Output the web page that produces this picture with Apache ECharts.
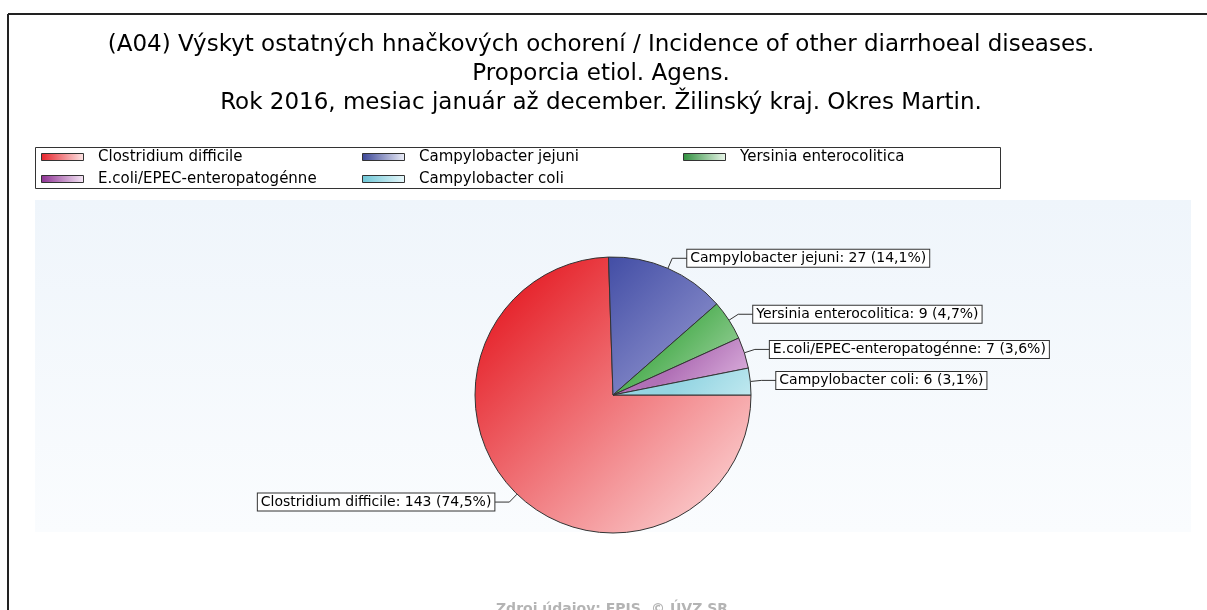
<!DOCTYPE html>
<html>
<head>
<meta charset="utf-8">
<script src="https://cdn.jsdelivr.net/npm/echarts@6/dist/echarts.min.js"></script>
<style>
  html, body { margin: 0; padding: 0; background: #fff; }
  #chart { width: 1207px; height: 610px; }
</style>
</head>
<body>
<div id="chart"></div>
<script>
// data
const agens = ['Clostridium difficile', 'Campylobacter jejuni', 'Yersinia enterocolitica', 'E.coli/EPEC-enteropatogénne', 'Campylobacter coli'];
const pocty = [143, 27, 9, 7, 6];
const titleLines = [
    '(A04) Výskyt ostatných hnačkových ochorení / Incidence of other diarrhoeal diseases.',
    'Proporcia etiol. Agens.',
    'Rok 2016, mesiac január až december. Žilinský kraj. Okres Martin.'
];
const zdroj = 'Zdroj údajov: EPIS, © ÚVZ SR';

// farby: prechody pre kolac a legendu
const pieStops = [
    [[0.1, '#e51d25'], [1, '#fde0e0']],
    [[0.25, '#444fa6'], [0.6, '#8a8ecb']],
    [[0.5, '#52b056'], [0.72, '#aad8aa']],
    [[0.56, '#b070b6'], [0.76, '#e6c0e6']],
    [[0.6, '#94d5e2'], [0.82, '#d4f1f6']]
];
const legendColors = [
    ['#e6222a', '#fde6e6'],
    ['#3a4596', '#eceef8'],
    ['#2f8f3e', '#eaf6ea'],
    ['#8c2f92', '#f6e8f6'],
    ['#6cc6d6', '#e8f8fb']
];

// kolac: stred a polomer
const cx = 613, cy = 395, r = 138;

const chart = echarts.init(document.getElementById('chart'));

function pieGrad(stops) {
    return {
        type: 'linear', global: true,
        x: cx - r, y: cy - r, x2: cx + r, y2: cy + r,
        colorStops: stops.map(s => ({ offset: s[0], color: s[1] }))
    };
}
function legGrad(c) {
    return {
        type: 'linear', x: 0, y: 0, x2: 1, y2: 0,
        colorStops: [{ offset: 0, color: c[0] }, { offset: 1, color: c[1] }]
    };
}

const pieData = agens.map((n, i) => ({
    name: n,
    value: pocty[i],
    itemStyle: { color: pieGrad(pieStops[i]) }
}));

function legendCol(idxs, left) {
    return {
        orient: 'vertical',
        left: left,
        top: 149,
        itemWidth: 42,
        itemHeight: 7,
        itemGap: 6,
        padding: 0,
        icon: 'rect',
        itemStyle: { borderColor: '#333', borderWidth: 1 },
        textStyle: { fontFamily: 'DejaVu Sans', fontSize: 15, color: '#000', lineHeight: 16 },
        formatter: n => '  ' + n,
        selectedMode: false,
        data: idxs.map(i => ({ name: agens[i], itemStyle: { color: legGrad(legendColors[i]) } }))
    };
}

chart.setOption({
    animation: false,
    backgroundColor: '#fff',
    title: {
        text: titleLines.join('\n'),
        left: 601,
        textAlign: 'center',
        top: 31,
        padding: 0,
        textStyle: { fontFamily: 'DejaVu Sans', fontSize: 23, fontWeight: 'normal', color: '#000', lineHeight: 29 }
    },
    legend: [
        legendCol([0, 3], 41),
        legendCol([1, 4], 362),
        legendCol([2], 683)
    ],
    graphic: [
        // ramik
        { type: 'line', shape: { x1: 8, y1: 14, x2: 1207, y2: 14 }, style: { stroke: '#222', lineWidth: 2 }, z: -1 },
        { type: 'line', shape: { x1: 8, y1: 14, x2: 8, y2: 610 }, style: { stroke: '#222', lineWidth: 2 }, z: -1 },
        // pozadie grafu
        {
            type: 'rect', shape: { x: 35, y: 200, width: 1156, height: 332 }, z: -10,
            style: { fill: { type: 'linear', x: 0, y: 0, x2: 0, y2: 1,
                colorStops: [{ offset: 0, color: '#eff5fb' }, { offset: 1, color: '#fafcfe' }] } }
        },
        // ram legendy
        { type: 'rect', shape: { x: 35.5, y: 147.5, width: 965, height: 41 }, style: { fill: '#fff', stroke: '#333', lineWidth: 1 }, z: -5 },
        // zdroj
        {
            type: 'text', x: 612, y: 602, z: 5,
            style: { text: zdroj, textAlign: 'center', textVerticalAlign: 'top', fill: '#b4b4b4', font: 'bold 14px "DejaVu Sans"' }
        }
    ],
    series: [{
        type: 'pie',
        center: [cx, cy],
        radius: r,
        startAngle: 0,
        clockwise: true,
        percentPrecision: 1,
        itemStyle: { borderColor: '#333', borderWidth: 1 },
        label: {
            formatter: p => p.name + ': ' + p.value + ' (' + p.percent.toFixed(1).replace('.', ',') + '%)',
            fontFamily: 'DejaVu Sans',
            fontSize: 14,
            color: '#000',
            backgroundColor: '#fff',
            borderColor: '#333',
            borderWidth: 1,
            padding: [2, 3, 1, 3],
            distanceToLabelLine: 0
        },
        labelLine: { length: 11, length2: 15, lineStyle: { color: '#333', width: 1 } },
        emphasis: { disabled: true },
        data: pieData
    }]
});
</script>
</body>
</html>
